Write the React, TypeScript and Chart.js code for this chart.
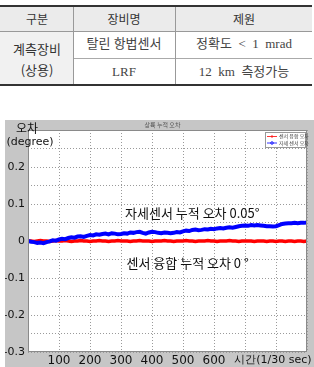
import React, { useEffect, useRef } from "react";
import { Chart, registerables } from "chart.js";

Chart.register(...registerables);

const TIME = [
  0, 10, 20, 30, 40, 50, 60, 70, 80, 90, 100, 110, 120, 130, 140, 150, 160, 170, 180, 190,
  200, 210, 220, 230, 240, 250, 260, 270, 280, 290, 300, 310, 320, 330, 340, 350, 360, 370, 380, 390,
  400, 410, 420, 430, 440, 450, 460, 470, 480, 490, 500, 510, 520, 530, 540, 550, 560, 570, 580, 590,
  600, 610, 620, 630, 640, 650, 660, 670, 680, 690, 700, 710, 720, 730, 740, 750, 760, 770, 780, 790,
  800, 810, 820, 830, 840, 850, 860, 870, 880, 890, 900,
];

const ATTITUDE_ERR = [
  0.0, -0.002, -0.003, -0.005, -0.004, -0.006, -0.003, -0.001, 0.002, 0.001,
  0.004, 0.006, 0.005, 0.008, 0.01, 0.009, 0.012, 0.013, 0.011, 0.014,
  0.016, 0.015, 0.018, 0.017, 0.019, 0.02, 0.018, 0.021, 0.02, 0.018,
  0.019, 0.021, 0.02, 0.023, 0.022, 0.024, 0.025, 0.022, 0.02, 0.023,
  0.025, 0.024, 0.022, 0.021, 0.023, 0.022, 0.021, 0.022, 0.024, 0.023,
  0.026, 0.028, 0.027, 0.03, 0.031, 0.029, 0.03, 0.032, 0.031, 0.033,
  0.032, 0.034, 0.035, 0.034, 0.036, 0.037, 0.036, 0.038, 0.04, 0.041,
  0.042, 0.041, 0.043, 0.042, 0.043, 0.042, 0.041, 0.04, 0.04, 0.039,
  0.04, 0.043, 0.046, 0.047, 0.048, 0.048, 0.049, 0.048, 0.049, 0.049, 0.05,
];

const FUSION_ERR = [
  0.0, 0.0, -0.001, 0.0, 0.001, 0.0, 0.0, -0.001, 0.0, 0.001,
  0.0, 0.0, 0.001, 0.0, -0.001, 0.0, 0.0, 0.001, 0.0, 0.0,
  -0.001, 0.0, 0.0, 0.001, 0.0, 0.0, -0.001, 0.0, 0.0, 0.001,
  0.0, 0.0, 0.0, -0.001, 0.0, 0.0, 0.001, 0.0, 0.0, 0.0,
  -0.001, 0.0, 0.0, 0.0, 0.001, 0.0, 0.0, -0.001, 0.0, 0.0,
  0.0, 0.001, 0.0, 0.0, -0.001, 0.0, 0.0, 0.0, 0.001, 0.0,
  0.0, -0.001, 0.0, 0.0, 0.0, 0.001, 0.0, 0.0, -0.001, 0.0,
  0.0, 0.0, 0.0, -0.001, 0.0, 0.0, 0.0, -0.001, 0.0, 0.0,
  -0.001, 0.0, 0.0, -0.001, 0.0, 0.0, -0.001, 0.0, 0.0, -0.001, 0.0,
];

const Y_LABELS = ["0.2", "0.1", "0", "-0.1", "-0.2", "-0.3"];
const X_LABELS = ["100", "200", "300", "400", "500", "600"];

const CHART_TITLE = "상륙 누적 오차";
const Y_TITLE_1 = "오차";
const Y_TITLE_2 = "(degree)";
const X_TITLE = "시간(1/30 sec)";
const LEGEND = ["센서 융합 오차", "자세 센서 오차"];
const NOTE_ATT = "자세센서 누적 오차 0.05°";
const NOTE_FUS = "센서 융합 누적 오차 0 °";

const TABLE_HEAD = ["구분", "장비명", "제원"];

const KR = "'Noto Sans CJK KR', 'Noto Sans', sans-serif";
const NUM = "'DejaVu Sans', sans-serif";

const decor = {
  id: "decor",
  beforeDraw(chart: any) {
    const { ctx, chartArea: a, width, height } = chart;
    ctx.save();
    ctx.fillStyle = "#c6c6c6";
    ctx.fillRect(0, 0, width, height);
    ctx.fillStyle = "#ffffff";
    ctx.fillRect(a.left, a.top, a.right - a.left, a.bottom - a.top);
    ctx.restore();
  },
  afterDraw(chart: any) {
    const { ctx, chartArea: a, scales } = chart;
    const xs = scales.x;
    const ys = scales.y;
    ctx.save();
    ctx.strokeStyle = "#8a8a8a";
    ctx.lineWidth = 1;
    ctx.strokeRect(a.left + 0.5, a.top + 0.5, a.right - a.left - 1, a.bottom - a.top - 1);

    ctx.fillStyle = "#555";
    ctx.font = `6px ${KR}`;
    ctx.textAlign = "center";
    ctx.textBaseline = "middle";
    ctx.fillText(CHART_TITLE, (a.left + a.right) / 2 - 5, 5);

    ctx.fillStyle = "#111";
    ctx.font = `12px ${KR}`;
    ctx.fillText(Y_TITLE_1, 22, 8);
    ctx.font = `11px ${NUM}`;
    ctx.fillText(Y_TITLE_2, 25, 22);

    ctx.font = `11px ${NUM}`;
    ctx.fillText(X_TITLE, xs.getPixelForValue(790), a.bottom + 8);

    // legend
    const lx = a.right - 42;
    const ly = a.top + 2;
    ctx.fillStyle = "#fff";
    ctx.fillRect(lx, ly, 40, 15);
    ctx.strokeStyle = "#999";
    ctx.strokeRect(lx + 0.5, ly + 0.5, 40, 15);
    const cols = ["#ff0000", "#0000ff"];
    LEGEND.forEach((t, i) => {
      const yy = ly + 4.5 + i * 6.5;
      ctx.strokeStyle = cols[i];
      ctx.lineWidth = 0.8;
      ctx.beginPath();
      ctx.moveTo(lx + 2, yy);
      ctx.lineTo(lx + 12, yy);
      ctx.stroke();
      if (i === 0) {
        ctx.beginPath();
        ctx.moveTo(lx + 7, yy - 1.5);
        ctx.lineTo(lx + 7, yy + 1.5);
        ctx.stroke();
      } else {
        ctx.beginPath();
        ctx.arc(lx + 7, yy, 1.3, 0, Math.PI * 2);
        ctx.stroke();
      }
      ctx.fillStyle = "#444";
      ctx.font = `5px ${KR}`;
      ctx.textAlign = "left";
      ctx.fillText(t, lx + 14, yy);
    });

    ctx.fillStyle = "#111";
    ctx.font = `13px ${KR}`;
    ctx.textAlign = "center";
    ctx.fillText(NOTE_ATT, xs.getPixelForValue(530), ys.getPixelForValue(0.075));
    ctx.fillText(NOTE_FUS, xs.getPixelForValue(515), ys.getPixelForValue(-0.06));
    ctx.restore();
  },
};

function ChartBox() {
  const ref = useRef<HTMLCanvasElement | null>(null);
  useEffect(() => {
    if (!ref.current) return;
    const chart = new Chart(ref.current, {
      type: "line",
      data: {
        datasets: [
          {
            label: LEGEND[1],
            data: TIME.map((t, i) => ({ x: t, y: ATTITUDE_ERR[i] })),
            borderColor: "#0000ff",
            borderWidth: 4,
            pointRadius: 0,
            tension: 0,
          },
          {
            label: LEGEND[0],
            data: TIME.map((t, i) => ({ x: t, y: FUSION_ERR[i] })),
            borderColor: "#ff0000",
            borderWidth: 3.5,
            pointRadius: 0,
            tension: 0,
          },
        ],
      },
      options: {
        responsive: false,
        animation: false,
        layout: { padding: { top: 10, right: 7, left: 0, bottom: 0 } },
        plugins: { legend: { display: false }, tooltip: { enabled: false }, title: { display: false } },
        scales: {
          x: {
            type: "linear",
            min: 0,
            max: 900,
            afterFit: (s: any) => {
              s.height = 15;
            },
            ticks: {
              stepSize: 100,
              autoSkip: false,
              maxRotation: 0,
              padding: 2,
              color: "#111",
              font: { family: NUM, size: 12 },
              callback: (v: any) => {
                const s = String(Math.round(Number(v)));
                return X_LABELS.includes(s) ? s : "";
              },
            },
            grid: { color: "#9a9a9a", lineWidth: 1, drawTicks: false },
            border: { display: false, dash: [1, 2] },
          },
          y: {
            min: -0.3,
            max: 0.3,
            afterFit: (s: any) => {
              s.width = 23;
            },
            ticks: {
              stepSize: 0.05,
              autoSkip: false,
              padding: 3,
              color: "#111",
              font: { family: NUM, size: 11 },
              callback: (v: any) => {
                const r = Math.round(Number(v) * 100) / 100;
                const s = r === 0 ? "0" : String(r);
                return Y_LABELS.includes(s) ? s : "";
              },
            },
            grid: { color: "#9a9a9a", lineWidth: 1, drawTicks: false },
            border: { display: false, dash: [1, 2] },
          },
        },
      },
      plugins: [decor],
    });
    return () => chart.destroy();
  }, []);
  return (
    <canvas
      ref={ref}
      width={309}
      height={247}
      style={{ position: "absolute", left: 5, top: 120, width: 309, height: 247 }}
    />
  );
}

const cell = (x: number, y: number, w: number, h: number, bg: string) => (
  <div style={{ position: "absolute", left: x, top: y, width: w, height: h, background: bg }} />
);

const txt = (s: string, cx: number, cy: number, size: number, family: string, color = "#333") => (
  <div
    style={{
      position: "absolute",
      left: cx - 80,
      top: cy - size,
      width: 160,
      height: size * 2,
      lineHeight: `${size * 2}px`,
      textAlign: "center",
      fontSize: size,
      fontFamily: family,
      color,
      whiteSpace: "pre",
    }}
  >
    {s}
  </div>
);

export default function App() {
  const SERIF = "'Liberation Serif', 'Noto Sans CJK KR', serif";
  return (
    <div style={{ position: "absolute", left: 0, top: 0, width: 314, height: 367, background: "#fff", overflow: "hidden" }}>
      {cell(0, 7, 312, 24, "#ebebeb")}
      {cell(0, 32, 73, 53, "#f1f1f1")}
      {cell(0, 5, 312, 2, "#333")}
      {cell(0, 31, 312, 1, "#999")}
      {cell(73, 58, 239, 1, "#aaa")}
      {cell(73, 7, 1, 78, "#999")}
      {cell(175, 7, 1, 78, "#999")}
      {cell(0, 84, 312, 2, "#333")}
      {txt(TABLE_HEAD[0], 37, 19, 12, KR)}
      {txt(TABLE_HEAD[1], 124, 19, 12, KR)}
      {txt(TABLE_HEAD[2], 244, 19, 12, KR)}
      {txt("계측장비", 37, 49, 13, KR)}
      {txt("(상용)", 37, 70, 13, KR)}
      {txt("탈린 항법센서", 124, 44, 13, SERIF, "#444")}
      {txt("정확도  <  1  mrad", 244, 44, 13, SERIF, "#444")}
      {txt("LRF", 124, 72, 13, SERIF, "#444")}
      {txt("12  km  측정가능", 244, 72, 13, SERIF, "#444")}
      <ChartBox />
    </div>
  );
}
